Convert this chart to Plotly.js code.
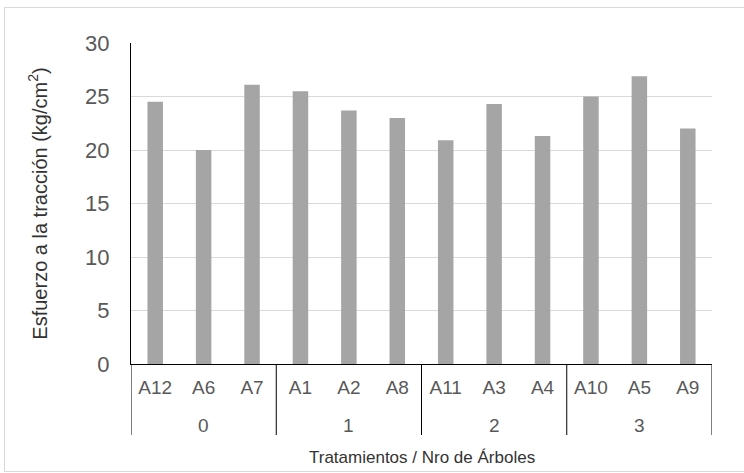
<!DOCTYPE html>
<html>
<head>
<meta charset="utf-8">
<script src="https://cdn.plot.ly/plotly-3.0.1.min.js"></script>
<style>
html,body{margin:0;padding:0;background:#fff;overflow:hidden;}
#wrap{position:relative;width:744px;height:473px;overflow:hidden;}
#chart{width:744px;height:473px;}
#frame{position:absolute;left:4px;top:7px;width:745px;height:465px;border:1px solid #d9d9d9;pointer-events:none;box-sizing:border-box;}
</style>
</head>
<body>
<div id="wrap"><div id="chart"></div><div id="frame"></div></div>
<script>
const treatments = ["0","0","0","1","1","1","2","2","2","3","3","3"];
const trees = ["A12","A6","A7","A1","A2","A8","A11","A3","A4","A10","A5","A9"];
const stress = [24.5, 20.0, 26.1, 25.5, 23.7, 23.0, 20.9, 24.3, 21.3, 25.0, 26.9, 22.0];
const yTicks = [0,5,10,15,20,25,30];
const xTitle = "Tratamientos / Nro de Árboles";
const yTitle = "Esfuerzo a la tracción (kg/cm<sup>2</sup>)";

const font = "Liberation Sans, Arial, sans-serif";
const plotH = 473 - 43 - 109;

// group extents from the treatments array (category index space)
const groups = [];
treatments.forEach((g, i) => {
  if (!groups.length || groups[groups.length - 1].name !== g) groups.push({name: g, start: i, end: i});
  else groups[groups.length - 1].end = i;
});

const annotations = groups.map(g => ({
  xref: "x", yref: "paper",
  x: (g.start + g.end) / 2, y: -61.5 / plotH,
  xanchor: "center", yanchor: "middle",
  text: g.name, showarrow: false,
  font: {family: font, size: 19, color: "#595959"}
}));
annotations.push({
  xref: "paper", yref: "paper", x: 0.5, y: -93 / plotH,
  xanchor: "center", yanchor: "middle", showarrow: false,
  text: xTitle, font: {family: font, size: 17, color: "#333"}
});

const boundaries = [groups[0].start - 0.5].concat(groups.map(g => g.end + 0.5));
const shapes = boundaries.map(b => ({
  type: "line", xref: "x", yref: "paper",
  x0: b, x1: b, y0: 0, y1: -71 / plotH,
  line: {color: "#000", width: 1}
}));

const trace = {
  type: "bar",
  x: trees.map((t, i) => i),
  y: stress,
  marker: {color: "#a5a5a5"},
  hoverinfo: "skip"
};
const layout = {
  width: 744, height: 473,
  margin: {l: 131, r: 32, t: 43, b: 109},
  paper_bgcolor: "#fff", plot_bgcolor: "#fff",
  bargap: 0.68,
  showlegend: false,
  font: {family: font, color: "#595959", size: 15},
  annotations: annotations,
  shapes: shapes,
  xaxis: {
    range: [-0.5, trees.length - 0.5],
    tickvals: trees.map((t, i) => i), ticktext: trees,
    showline: true, linecolor: "#000", linewidth: 1,
    ticks: "", showgrid: false, zeroline: false,
    ticklabelstandoff: 6,
    tickfont: {family: font, size: 19, color: "#595959"}
  },
  yaxis: {
    range: [0, 30], tickvals: yTicks, ticktext: yTicks.map(String),
    showline: true, linecolor: "#000", linewidth: 1,
    showgrid: true, gridcolor: "#d9d9d9", gridwidth: 1,
    zeroline: false, ticks: "",
    ticklabelstandoff: 16,
    tickfont: {family: font, size: 22, color: "#595959"},
    title: {text: yTitle, font: {family: font, size: 20, color: "#333"}, standoff: 32}
  }
};
Plotly.newPlot("chart", [trace], layout, {displayModeBar: false, staticPlot: true});
</script>
</body>
</html>
